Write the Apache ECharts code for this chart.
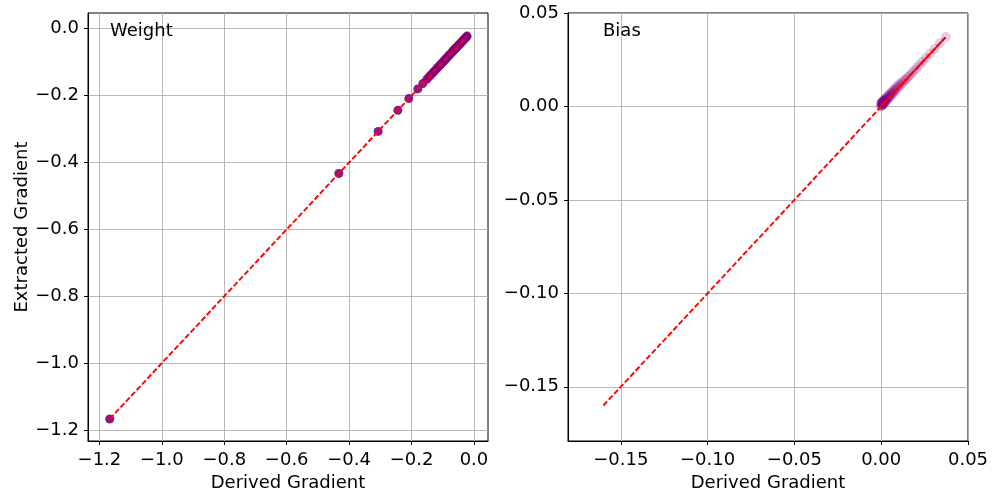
<!DOCTYPE html>
<html>
<head>
<meta charset="utf-8">
<script src="https://cdn.jsdelivr.net/npm/echarts@6/dist/echarts.min.js"></script>
<style>
  html, body { margin: 0; padding: 0; background: #fff; }
  #chart { width: 995px; height: 493px; }
</style>
</head>
<body>
<div id="chart"></div>
<script>
// Weight gradients: derived vs extracted
const derivedW = [-1.167, -0.433, -0.307, -0.244, -0.209, -0.180, -0.164, -0.151, -0.144, -0.138,
  -0.132, -0.127, -0.121, -0.116, -0.111, -0.106, -0.102, -0.097, -0.093, -0.089,
  -0.085, -0.081, -0.077, -0.073, -0.069, -0.066, -0.062, -0.059, -0.056, -0.052,
  -0.049, -0.046, -0.043, -0.040, -0.037, -0.034, -0.031, -0.028, -0.025, -0.022];
const extractedW = [-1.167, -0.433, -0.307, -0.244, -0.209, -0.180, -0.164, -0.151, -0.144, -0.138,
  -0.132, -0.127, -0.121, -0.116, -0.111, -0.106, -0.102, -0.097, -0.093, -0.089,
  -0.085, -0.081, -0.077, -0.073, -0.069, -0.066, -0.062, -0.059, -0.056, -0.052,
  -0.049, -0.046, -0.043, -0.040, -0.037, -0.034, -0.031, -0.028, -0.025, -0.022];

// Bias gradients: derived vs extracted
const derivedB = [0.0000, 0.0001, 0.0001, 0.0002, 0.0003, 0.0003, 0.0004, 0.0005, 0.0006, 0.0006,
  0.0007, 0.0008, 0.0009, 0.0010, 0.0011, 0.0012, 0.0013, 0.0015, 0.0016, 0.0017,
  0.0019, 0.0020, 0.0022, 0.0024, 0.0025, 0.0027, 0.0029, 0.0031, 0.0033, 0.0036,
  0.0038, 0.0041, 0.0043, 0.0046, 0.0049, 0.0052, 0.0055, 0.0058, 0.0062, 0.0066,
  0.0069, 0.0073, 0.0078, 0.0082, 0.0087, 0.0092, 0.0098, 0.0104, 0.0111, 0.0118,
  0.0126, 0.0135, 0.0144, 0.0154, 0.0165, 0.0177, 0.0190, 0.0204, 0.0220, 0.0238,
  0.0258, 0.0281, 0.0307, 0.0338, 0.0372];
const extractedB = [0.0002, 0.0016, 0.0004, 0.0018, 0.0005, 0.0019, 0.0006, 0.0021, 0.0008, 0.0022,
  0.0009, 0.0024, 0.0011, 0.0026, 0.0013, 0.0028, 0.0015, 0.0031, 0.0018, 0.0033,
  0.0021, 0.0036, 0.0024, 0.0040, 0.0027, 0.0043, 0.0031, 0.0047, 0.0035, 0.0052,
  0.0040, 0.0057, 0.0045, 0.0062, 0.0051, 0.0068, 0.0057, 0.0074, 0.0064, 0.0081,
  0.0071, 0.0089, 0.0080, 0.0098, 0.0089, 0.0108, 0.0100, 0.0119, 0.0112, 0.0130,
  0.0127, 0.0141, 0.0145, 0.0158, 0.0166, 0.0179, 0.0191, 0.0206, 0.0221, 0.0239,
  0.0259, 0.0282, 0.0307, 0.0338, 0.0372];

// Reference y = x line endpoints (dashed), plus the densely overdrawn bias stretch
const refLineW = [-1.167, -0.022];
const refLineB = [-0.160, 0.037];
const refDenseB = [0.000, 0.037];

// Tick values
const ticksW = [-1.2, -1.0, -0.8, -0.6, -0.4, -0.2, 0.0];
const ticksB = [-0.15, -0.10, -0.05, 0.00, 0.05];

const FONT = 'DejaVu Sans';

function fmt(decimals) {
  return function (v) {
    const s = Math.abs(v).toFixed(decimals);
    return (v < -1e-9 ? '\u2212' : '') + s;
  };
}

function axis(gridIndex, min, max, ticks, decimals, isY, extra) {
  return Object.assign({
    type: 'value',
    gridIndex: gridIndex,
    min: min,
    max: max,
    axisLine: { show: true, onZero: false, lineStyle: { color: '#000', width: 1 } },
    axisTick: { show: true, customValues: ticks, length: 4, lineStyle: { color: '#000', width: 1 } },
    axisLabel: {
      customValues: ticks, formatter: fmt(decimals),
      fontFamily: FONT, fontSize: 18, color: '#000',
      margin: isY ? 9 : 10,
      padding: isY ? [3, 0, 0, 0] : 0
    },
    splitLine: { show: true, lineStyle: { color: '#b0b0b0', width: 0.9 } },
    nameTextStyle: { fontFamily: FONT, fontSize: 18, color: '#000' }
  }, extra || {});
}

function pairs(xs, ys) {
  return xs.map(function (x, i) { return [x, ys[i]]; });
}

const dashed = { color: '#ff0000', width: 1.9, type: [5.5, 2.4] };

const chart = echarts.init(document.getElementById('chart'), null, { renderer: 'canvas' });

chart.setOption({
  animation: false,
  backgroundColor: '#fff',
  title: [
    { text: 'Weight', left: 110, top: 22, padding: 0,
      textStyle: { fontFamily: FONT, fontSize: 18, fontWeight: 'normal', color: '#000' } },
    { text: 'Bias', left: 603, top: 22, padding: 0,
      textStyle: { fontFamily: FONT, fontSize: 18, fontWeight: 'normal', color: '#000' } }
  ],
  grid: [
    { left: 88, top: 13, width: 400, height: 428, outerBoundsMode: 'none', containLabel: false,
      show: true, borderColor: '#000', borderWidth: 1, backgroundColor: 'transparent' },
    { left: 568, top: 13, width: 400, height: 428, outerBoundsMode: 'none', containLabel: false,
      show: true, borderColor: '#000', borderWidth: 1, backgroundColor: 'transparent' }
  ],
  xAxis: [
    axis(0, -1.2366, 0.0449, ticksW, 1, false, { name: 'Derived Gradient', nameLocation: 'middle', nameGap: 29 }),
    axis(1, -0.1804, 0.05, ticksB, 2, false, { name: 'Derived Gradient', nameLocation: 'middle', nameGap: 29 })
  ],
  yAxis: [
    axis(0, -1.2329, 0.047, ticksW, 1, true, { name: 'Extracted Gradient', nameLocation: 'middle', nameGap: 57 }),
    axis(1, -0.179, 0.05, ticksB, 2, true)
  ],
  series: [
    {
      type: 'scatter', xAxisIndex: 0, yAxisIndex: 0,
      data: pairs(derivedW, extractedW),
      symbolSize: 9,
      itemStyle: { color: '#800080', opacity: 0.9 },
      z: 2
    },
    {
      type: 'line', xAxisIndex: 0, yAxisIndex: 0,
      data: pairs(refLineW, refLineW),
      symbol: 'none',
      lineStyle: dashed,
      z: 3
    },
    {
      type: 'scatter', xAxisIndex: 1, yAxisIndex: 1,
      data: pairs(derivedB, extractedB),
      symbolSize: 10,
      itemStyle: { color: '#800080', opacity: 0.2 },
      z: 2
    },
    {
      type: 'line', xAxisIndex: 1, yAxisIndex: 1,
      data: pairs(refLineB, refLineB),
      symbol: 'none',
      lineStyle: dashed,
      z: 3
    },
    {
      type: 'line', xAxisIndex: 1, yAxisIndex: 1,
      data: pairs(refDenseB, refDenseB),
      symbol: 'none',
      lineStyle: { color: '#ff0000', width: 1.8 },
      z: 3
    }
  ]
});
</script>
</body>
</html>
